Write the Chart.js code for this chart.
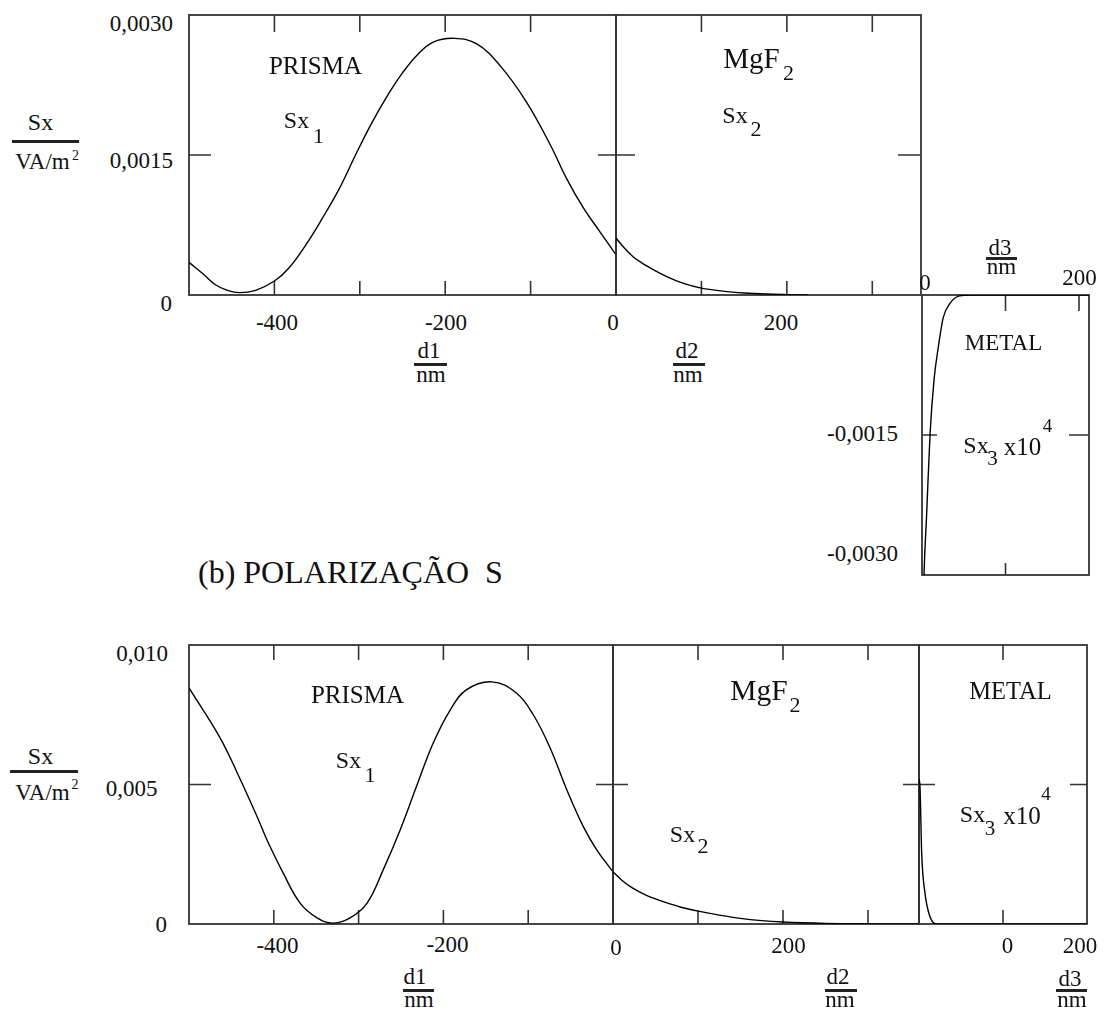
<!DOCTYPE html>
<html>
<head>
<meta charset="utf-8">
<script src="https://cdn.jsdelivr.net/npm/chart.js@4.4.1/dist/chart.umd.min.js"></script>
<style>
  body { margin: 0; background: #fff; }
  #page { position: relative; width: 1104px; height: 1010px; overflow: hidden; background: #fff;
          font-family: "Liberation Serif", "Times New Roman", serif; color: #111; }
  #page canvas { position: absolute; }
  .t { position: absolute; white-space: nowrap; line-height: 1; }
  .bar { position: absolute; height: 3px; background: #222; }
</style>
</head>
<body>
<div id="page"></div>
<script>
// ---- (a) upper plot: Sx in VA/m2 against depth in nm ----
const d1Upper = [-500, -484, -469, -455, -441, -422, -400, -383, -363, -344, -324, -305, -285, -266, -250, -233, -214, -189, -163, -136, -105, -77, -58, -38, -19, 0];
const sx1Upper = [0.00035, 0.00023, 0.00011, 0.00005, 0.000025, 0.00005, 0.00015, 0.00029, 0.00054, 0.00082, 0.00114, 0.0015, 0.00186, 0.00216, 0.00238, 0.00257, 0.00271, 0.00275, 0.00269, 0.00246, 0.00207, 0.00161, 0.00125, 0.00093, 0.00068, 0.00043];
const d2Upper = [0, 10, 20, 30, 40, 50, 60, 80, 100, 125, 150, 175, 200, 225];
const sx2Upper = [0.00061, 0.0005, 0.00041, 0.000345, 0.00029, 0.00024, 0.000195, 0.000122, 0.000074, 0.000042, 0.000022, 0.00001, 0.000004, 0];
const d3Upper = [0, 2.4, 5.6, 9.6, 14.4, 19.5, 25.5, 33.5, 45, 60, 200];
const sx3Upper = [-0.004, -0.003, -0.00234, -0.0015, -0.00091, -0.00056, -0.00024, -0.00009, -0.00001, 0, 0];

// ---- (b) lower plot, s polarisation ----
const d1Lower = [-500, -464, -441, -418, -408, -389, -369, -349, -331, -310, -290, -271, -251, -232, -212, -192, -173, -143, -114, -94, -74, -55, -35, -19, 0];
const sx1Lower = [0.00846, 0.00671, 0.00528, 0.00373, 0.00301, 0.00183, 0.00075, 0.00022, 0.00003, 0.00022, 0.00075, 0.00194, 0.00337, 0.00491, 0.00649, 0.00767, 0.00839, 0.00868, 0.00828, 0.0075, 0.0063, 0.00485, 0.00349, 0.00265, 0.00187];
const d2Lower = [0, 10, 20, 30, 40, 50, 60, 80, 100, 125, 150, 175, 200, 250, 300, 360];
const sx2Lower = [0.00187, 0.00158, 0.00135, 0.00117, 0.00102, 0.0009, 0.00079, 0.0006, 0.00046, 0.00032, 0.0002, 0.00012, 0.00007, 0.00002, 0.000005, 0];
const d3Lower = [-200, -197.6, -193.6, -185.7, -173.8, -158, -140, 200];
const sx3Lower = [0.0052, 0.0049, 0.00254, 0.0011, 0.00026, 0, 0, 0];

// tick values
const d1Ticks = [-400, -300, -200, -100];
const d2Ticks = [100, 200, 300];
const d3UpperTopTicks = [100, 188];
const d3UpperBottomTicks = [100];
const d3LowerTicks = [0];
const upperYMid = [0.0015];
const upperMetalYMid = [-0.0015];
const lowerYMid = [0.005];

// tick labels
const upperYLabels = ["0,0030", "0,0015", "0"];
const upperMetalYLabels = ["-0,0015", "-0,0030"];
const lowerYLabels = ["0,010", "0,005", "0"];
const d1Labels = ["-400", "-200", "0"];
const d2Labels = ["200"];
const d3Labels = ["0", "200"];

const page = document.getElementById("page");

// box with inward ticks, Mathcad style
const framePlugin = {
  id: "frame",
  beforeDatasetsDraw(chart, args, o) {
    const {ctx, chartArea: a} = chart;
    const x = chart.scales.x;
    const y = chart.scales.y;
    ctx.save();
    ctx.strokeStyle = "#333";
    ctx.lineWidth = 1.8;
    ctx.strokeRect(a.left, a.top, a.right - a.left, a.bottom - a.top);
    ctx.beginPath();
    o.topTicks.forEach((v) => {
      const px = x.getPixelForValue(v);
      ctx.moveTo(px, a.top);
      ctx.lineTo(px, a.top + o.topLen);
    });
    o.bottomTicks.forEach((v) => {
      const px = x.getPixelForValue(v);
      ctx.moveTo(px, a.bottom);
      ctx.lineTo(px, a.bottom - o.bottomLen);
    });
    o.yTicks.forEach((v) => {
      const py = y.getPixelForValue(v);
      ctx.moveTo(a.left, py);
      ctx.lineTo(a.left + o.leftLen, py);
      ctx.moveTo(a.right, py);
      ctx.lineTo(a.right - o.rightLen, py);
    });
    ctx.lineWidth = 1.6;
    ctx.stroke();
    ctx.restore();
  },
};

function makePanel(p) {
  const pad = 4;
  const [l, t, r, b] = p.box;
  const cv = document.createElement("canvas");
  cv.width = r - l + 2 * pad;
  cv.height = b - t + 2 * pad;
  cv.style.left = (l - pad) + "px";
  cv.style.top = (t - pad) + "px";
  page.appendChild(cv);
  const line = {
    data: p.xs.map((x, i) => ({x: x, y: p.ys[i]})),
    borderColor: "#000",
    borderWidth: 1.4,
    pointRadius: 0,
    fill: false,
  };
  // standing waves get a soft bezier, the decays a monotone spline
  if (p.wave) {
    line.tension = 0.4;
  } else {
    line.cubicInterpolationMode = "monotone";
  }
  return new Chart(cv, {
    type: "line",
    data: {datasets: [line]},
    options: {
      responsive: false,
      animation: false,
      devicePixelRatio: 1,
      events: [],
      layout: {padding: pad},
      scales: {
        x: {type: "linear", display: false, min: p.xMin, max: p.xMax},
        y: {type: "linear", display: false, min: p.yMin, max: p.yMax},
      },
      plugins: {
        legend: {display: false},
        tooltip: {enabled: false},
        frame: {
          topTicks: p.topTicks, bottomTicks: p.bottomTicks, yTicks: p.yTicks,
          topLen: p.topLen, bottomLen: p.bottomLen, leftLen: p.leftLen, rightLen: p.rightLen,
        },
      },
    },
    plugins: [framePlugin],
  });
}

function txt(s, x, y, size, align) {
  const el = document.createElement("div");
  el.className = "t";
  el.textContent = s;
  el.style.left = x + "px";
  el.style.top = y + "px";
  el.style.fontSize = size + "px";
  let tx = "-50%";
  if (align === "r") tx = "-100%";
  if (align === "l") tx = "0";
  el.style.transform = "translate(" + tx + ",-50%)";
  page.appendChild(el);
}

function bar(x1, x2, y) {
  const el = document.createElement("div");
  el.className = "bar";
  el.style.left = x1 + "px";
  el.style.width = (x2 - x1) + "px";
  el.style.top = (y - 1.5) + "px";
  page.appendChild(el);
}

// ---------- upper plot ----------
makePanel({box: [189, 15, 616, 295], xs: d1Upper, ys: sx1Upper, xMin: -500, xMax: 0, yMin: 0, yMax: 0.003, wave: true,
  topTicks: d1Ticks, bottomTicks: d1Ticks, yTicks: upperYMid, topLen: 17, bottomLen: 14, leftLen: 22, rightLen: 18});
makePanel({box: [616, 15, 921, 295], xs: d2Upper, ys: sx2Upper, xMin: 0, xMax: 357, yMin: 0, yMax: 0.003,
  topTicks: d2Ticks, bottomTicks: d2Ticks, yTicks: upperYMid, topLen: 17, bottomLen: 14, leftLen: 19, rightLen: 23});
makePanel({box: [922, 295, 1089, 575], xs: d3Upper, ys: sx3Upper, xMin: 0, xMax: 200, yMin: -0.003, yMax: 0,
  topTicks: d3UpperTopTicks, bottomTicks: d3UpperBottomTicks, yTicks: upperMetalYMid, topLen: 16, bottomLen: 12, leftLen: 15, rightLen: 20});

txt(upperYLabels[0], 173, 23, 23, "r");
txt(upperYLabels[1], 173, 160, 23, "r");
txt(upperYLabels[2], 172, 303, 23, "r");
txt("Sx", 40.5, 122, 24);
bar(12, 79, 141);
txt("VA/m", 42.5, 161, 23);
txt("2", 75.5, 156, 14);

txt(d1Labels[0], 277, 322, 23);
txt(d1Labels[1], 446, 322, 23);
txt(d1Labels[2], 613, 322, 23);
txt(d2Labels[0], 781, 322, 23);
txt("d1", 429, 350, 23);
bar(414, 447, 364);
txt("nm", 431, 374, 23);
txt("d2", 687, 350, 23);
bar(673, 705, 364);
txt("nm", 688, 374, 23);

txt(d3Labels[0], 925, 281.5, 23);
txt(d3Labels[1], 1079.5, 276.5, 23);
txt("d3", 1000, 247, 23);
bar(986, 1017, 258);
txt("nm", 1001.5, 266, 23);
txt(upperMetalYLabels[0], 898, 433, 23, "r");
txt(upperMetalYLabels[1], 898, 553, 23, "r");

txt("PRISMA", 315.5, 65, 25);
txt("Sx", 296.5, 120, 24);
txt("1", 318.5, 135.5, 22);
txt("MgF", 751.5, 58, 29);
txt("2", 788.5, 72.5, 22);
txt("Sx", 735, 114.5, 24);
txt("2", 756, 128.5, 22);
txt("METAL", 1003.5, 342, 23);
txt("Sx", 976, 445, 24);
txt("3", 992.5, 457.5, 21);
txt("x10", 1022.5, 445.5, 25);
txt("4", 1047.5, 425, 19);

txt("(b) POLARIZAÇÃO\u00a0 S", 198, 572, 32, "l");

// ---------- lower plot ----------
makePanel({box: [189, 645, 613, 924], xs: d1Lower, ys: sx1Lower, xMin: -500, xMax: 0, yMin: 0, yMax: 0.01, wave: true,
  topTicks: d1Ticks, bottomTicks: d1Ticks, yTicks: lowerYMid, topLen: 15, bottomLen: 14, leftLen: 22, rightLen: 17});
makePanel({box: [613, 645, 919, 924], xs: d2Lower, ys: sx2Lower, xMin: 0, xMax: 360, yMin: 0, yMax: 0.01,
  topTicks: d2Ticks, bottomTicks: d2Ticks, yTicks: lowerYMid, topLen: 15, bottomLen: 14, leftLen: 15, rightLen: 16});
makePanel({box: [919, 645, 1087, 924], xs: d3Lower, ys: sx3Lower, xMin: -200, xMax: 200, yMin: 0, yMax: 0.01,
  topTicks: d3LowerTicks, bottomTicks: d3LowerTicks, yTicks: lowerYMid, topLen: 15, bottomLen: 14, leftLen: 16, rightLen: 17});

txt(lowerYLabels[0], 168, 652.5, 23, "r");
txt(lowerYLabels[1], 157.5, 788, 23, "r");
txt(lowerYLabels[2], 167, 924, 23, "r");
txt("Sx", 40.5, 756, 24);
bar(10, 78, 771.5);
txt("VA/m", 42.5, 791.5, 23);
txt("2", 75, 785, 14);

txt(d1Labels[0], 277.5, 945, 23);
txt(d1Labels[1], 447.5, 944, 23);
txt(d1Labels[2], 616, 946.5, 23);
txt(d2Labels[0], 788.5, 945, 23);
txt(d3Labels[0], 1007.5, 945, 23);
txt(d3Labels[1], 1080, 945, 23);
txt("d1", 415, 976, 23);
bar(403, 434, 990);
txt("nm", 419, 999, 23);
txt("d2", 838, 976, 23);
bar(825, 857, 990);
txt("nm", 840, 999, 23);
txt("d3", 1070, 977.5, 23);
bar(1056, 1087, 990);
txt("nm", 1072, 999, 23);

txt("PRISMA", 357.5, 693.5, 25);
txt("Sx", 348.5, 760, 24);
txt("1", 370, 775, 22);
txt("MgF", 759, 691, 29.5);
txt("2", 795, 705, 22);
txt("Sx", 682.5, 834, 24);
txt("2", 703, 845.5, 22);
txt("METAL", 1010.5, 690.5, 24.5);
txt("Sx", 972.5, 813.5, 24);
txt("3", 990, 828, 21);
txt("x10", 1022, 815, 25);
txt("4", 1046, 793, 19);
</script>
</body>
</html>
